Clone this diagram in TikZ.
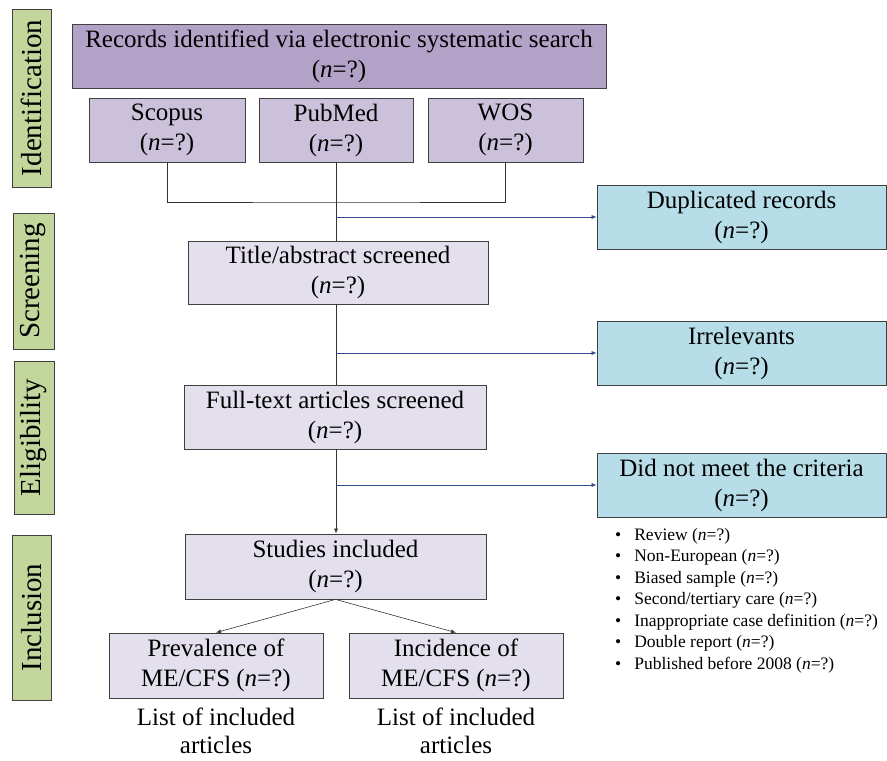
\documentclass[tikz,border=0pt]{standalone}
\usepackage{fontspec}
\setmainfont{Liberation Serif}
\usetikzlibrary{arrows.meta}
\definecolor{darkpurple}{HTML}{B3A2C7}
\definecolor{midpurple}{HTML}{CCC1DA}
\definecolor{lightpurple}{HTML}{E4DFEC}
\definecolor{paleblue}{HTML}{B7DEE8}
\definecolor{palegreen}{HTML}{C3D69B}
\definecolor{arrowblue}{HTML}{2F4B8C}
\newcommand{\nq}{(\textit{n}=?)}
\begin{document}
\begin{tikzpicture}[x=1pt,y=-1pt,
  box/.style={draw=black!75,thick,rectangle,inner sep=0pt,align=center,
    font=\fontsize{25}{30}\selectfont},
  phase/.style={draw=black!75,thick,fill=palegreen,inner sep=0pt,rotate=90,
    font=\fontsize{29}{30}\selectfont},
  sidearrow/.style={-{Latex[length=5pt,width=4pt]},draw=arrowblue,semithick},
  downarrow/.style={-{Latex[length=5pt,width=4pt]},draw=black!80,semithick}]
\useasboundingbox (0,0) rectangle (887,761);
% phases
\node[phase,minimum width=178pt,minimum height=39pt] (P1) at (31.5,98) {Identification};
\node[phase,minimum width=136pt,minimum height=41pt] (P2) at (33.5,281) {Screening};
\node[phase,minimum width=153pt,minimum height=40pt] (P3) at (34,437.5) {Eligibility};
\node[phase,minimum width=165pt,minimum height=39pt] (P4) at (31.5,617.5) {Inclusion};
% main column
\node[box,fill=darkpurple,minimum width=534pt,minimum height=64pt] (search) at (339,56) {Records identified via electronic systematic search\\\nq};
\node[box,fill=midpurple,minimum width=156pt,minimum height=64pt] (scopus) at (167,130) {Scopus\\\nq};
\node[box,fill=midpurple,minimum width=154pt,minimum height=64pt] (pubmed) at (336,130) {PubMed\\\nq};
\node[box,fill=midpurple,minimum width=155pt,minimum height=64pt] (wos) at (505.5,130) {WOS\\\nq};
\node[box,fill=lightpurple,minimum width=300pt,minimum height=63pt] (title) at (338,272.5) {Title/abstract screened\\\nq};
\node[box,fill=lightpurple,minimum width=302pt,minimum height=64pt] (fulltext) at (335,417) {Full-text articles screened\\\nq};
\node[box,fill=lightpurple,minimum width=301pt,minimum height=65pt] (studies) at (335.5,566.5) {Studies included\\\nq};
\node[box,fill=lightpurple,minimum width=214pt,minimum height=65pt] (prev) at (216,665.5) {Prevalence of\\ME/CFS \nq};
\node[box,fill=lightpurple,minimum width=214pt,minimum height=65pt] (inc) at (456,665.5) {Incidence of\\ME/CFS \nq};
\node[align=center,font=\fontsize{25}{28}\selectfont,anchor=north] (prevlist) at (216,704) {List of included\\articles};
\node[align=center,font=\fontsize{25}{28}\selectfont,anchor=north] (inclist) at (456,704) {List of included\\articles};
% excluded
\node[box,fill=paleblue,minimum width=289pt,minimum height=64pt] (dup) at (741.5,217) {Duplicated records\\\nq};
\node[box,fill=paleblue,minimum width=289pt,minimum height=64pt] (irr) at (741.5,353) {Irrelevants\\\nq};
\node[box,fill=paleblue,minimum width=289pt,minimum height=64pt] (crit) at (741.5,485) {Did not meet the criteria\\\nq};
\node[anchor=north west,inner sep=0pt,font=\fontsize{17.5}{21.5}\selectfont,align=left] (reasons) at (615,528) {%
  \textbullet\hspace{13pt}Review \nq\\
  \textbullet\hspace{13pt}Non-European \nq\\
  \textbullet\hspace{13pt}Biased sample \nq\\
  \textbullet\hspace{13pt}Second/tertiary care \nq\\
  \textbullet\hspace{13pt}Inappropriate case definition \nq\\
  \textbullet\hspace{13pt}Double report \nq\\
  \textbullet\hspace{13pt}Published before 2008 \nq};
% connectors
\coordinate (join) at (336,202);
\draw[black!80,semithick] (scopus.south) |- (join) -| (wos.south);
\draw[black!80,semithick] (pubmed.south) -- (pubmed.south |- title.north);
\draw[black!80,semithick] (pubmed.south |- title.south) -- (pubmed.south |- fulltext.north);
\draw[downarrow] (pubmed.south |- fulltext.south) -- (pubmed.south |- studies.north);
\draw[sidearrow] (pubmed.south |- dup.west) -- (dup.west);
\draw[sidearrow] (pubmed.south |- irr.west) -- (irr.west);
\draw[sidearrow] (pubmed.south |- crit.west) -- (crit.west);
\draw[downarrow] (studies.south) -- (prev.north);
\draw[downarrow] (studies.south) -- (inc.north);
\end{tikzpicture}
\end{document}
